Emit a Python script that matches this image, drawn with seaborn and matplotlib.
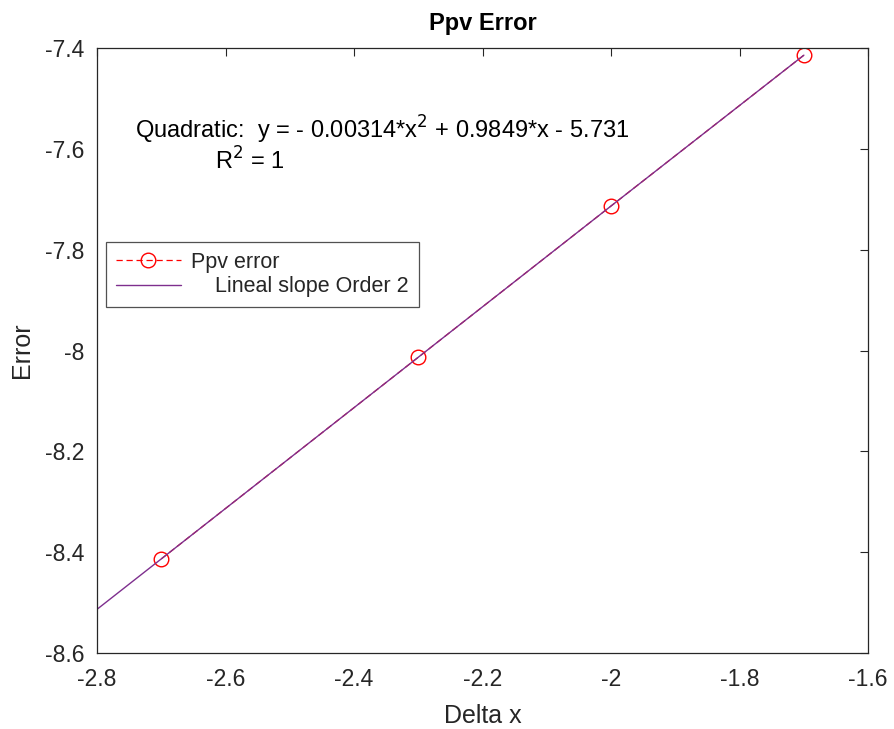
import matplotlib
matplotlib.use("Agg")
import matplotlib.pyplot as plt
import seaborn as sns
import pandas as pd

# Data
delta_x = [-2.7, -2.3, -2.0, -1.7]
ppv_error = [-8.413, -8.013, -7.713, -7.414]
fit_x = [-2.8, -2.7, -2.3, -2.0, -1.7]
fit_y = [-8.513, -8.413, -8.013, -7.713, -7.414]
x_ticks = [-2.8, -2.6, -2.4, -2.2, -2.0, -1.8, -1.6]
y_ticks = [-8.6, -8.4, -8.2, -8.0, -7.8, -7.6, -7.4]

sns.set_theme(style="white")
plt.rcParams['font.family'] = ['Liberation Sans', 'DejaVu Sans']

fig = plt.figure(figsize=(8.95, 7.29), dpi=100)
ax = fig.add_axes([0.1084, 0.104, 0.8616, 0.830])

df_pts = pd.DataFrame({"x": delta_x, "y": ppv_error})
df_fit = pd.DataFrame({"x": fit_x, "y": fit_y})

sns.lineplot(data=df_pts, x="x", y="y", ax=ax, color="#ff0000", linestyle=(0, (5, 3)),
             linewidth=0.9, marker="o", markersize=10.5, markerfacecolor="none",
             markeredgecolor="#ff0000", markeredgewidth=1.0, label="Ppv error",
             sort=False)
sns.lineplot(data=df_fit, x="x", y="y", ax=ax, color="#7E2F8E", linewidth=1.0,
             label="    Lineal slope Order 2", sort=False)

ax.set_xlim(-2.8, -1.6)
ax.set_ylim(-8.6, -7.4)
ax.set_xticks(x_ticks)
ax.set_yticks(y_ticks)
fmt = lambda v: ("%g" % v)
ax.set_xticklabels([fmt(v) for v in x_ticks])
ax.set_yticklabels([fmt(v) for v in y_ticks])
ax.tick_params(direction="in", length=6, width=0.8, colors="#262626",
               labelsize=16.5, top=True, right=True, labelcolor="#262626")
ax.tick_params(axis="x", pad=11)
ax.tick_params(axis="y", pad=9)
for s in ax.spines.values():
    s.set_visible(True)
    s.set_color("#262626")
    s.set_linewidth(0.9)

ax.set_xlabel("Delta x", fontsize=18, color="#262626", labelpad=9)
ax.set_ylabel("Error", fontsize=18, color="#262626", labelpad=8)
ax.set_title("Ppv Error", fontsize=17, fontweight="bold", color="black", pad=13)

ax.text(-2.741, -7.563, r"Quadratic:  y = - 0.00314*x$^{2}$ + 0.9849*x - 5.731",
        fontsize=17, color="black", va="center")
ax.text(-2.616, -7.624, r"R$^{2}$ = 1", fontsize=17, color="black", va="center")

leg = ax.legend(loc="upper left", bbox_to_anchor=(0.012, 0.679), fontsize=15.5,
                frameon=True, fancybox=False, borderpad=0.45, handlelength=3.0,
                labelspacing=0.15, handletextpad=0.5, borderaxespad=0)
leg.get_frame().set_edgecolor("#262626")
leg.get_frame().set_linewidth(0.9)

fig.savefig("out.png", dpi=100)
